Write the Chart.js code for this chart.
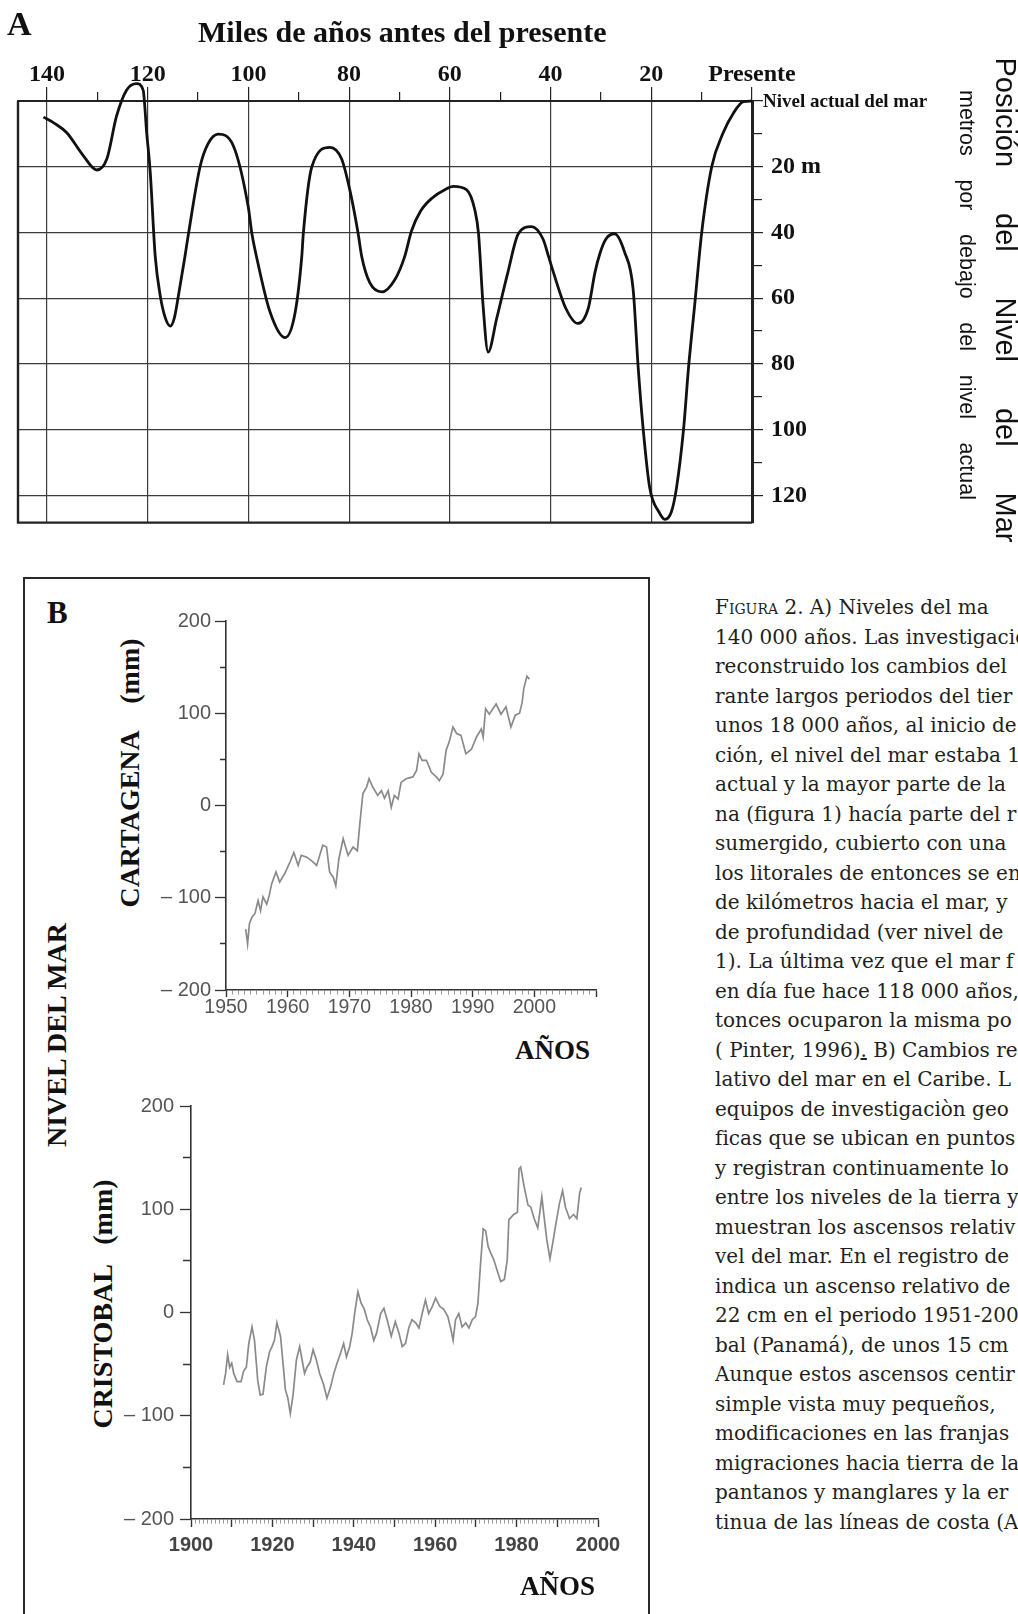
<!DOCTYPE html>
<html lang="es">
<head>
<meta charset="utf-8">
<title>Niveles del mar</title>
<script src="https://cdn.jsdelivr.net/npm/chart.js@4.4.1/dist/chart.umd.min.js"></script>
<style>
  html, body { margin: 0; padding: 0; background: #fff; }
  body { position: relative; width: 1018px; height: 1614px; overflow: hidden; color: #111; }
  canvas { position: absolute; }
  .lbl { position: absolute; white-space: pre; line-height: 1; font-family: 'Liberation Serif', serif; font-weight: bold; color: #111; }
  .rot { position: absolute; white-space: pre; line-height: 1; font-family: 'Liberation Serif', serif; font-weight: bold; color: #111;
         transform: translate(-50%, -50%) rotate(-90deg); }
  .vert { position: absolute; display: flex; justify-content: space-between; line-height: 1; white-space: pre;
          font-family: 'Liberation Sans', Arial, sans-serif; color: #111; transform: translate(-50%, -50%) rotate(90deg); }
  #frameB { position: absolute; left: 23px; top: 577px; width: 623px; height: 1200px; border: 2px solid #2a2a2a; }
  #caption { position: absolute; left: 715px; top: 593px; width: 303px; overflow: hidden; white-space: nowrap;
             font-family: 'DejaVu Serif', serif; font-size: 20px; line-height: 29.5px; color: #231f20; }
  .sc { font-variant: small-caps; }
</style>
</head>
<body>

<!-- Panel A -->
<canvas id="chartA" width="1018" height="545" style="left:0;top:0"></canvas>
<div class="lbl" style="left:7px;top:7px;font-size:34px">A</div>
<div class="lbl" style="left:198px;top:17px;font-size:30px">Miles de años antes del presente</div>
<div class="lbl" style="left:763px;top:91px;font-size:19px">Nivel actual del mar</div>
<div class="vert" style="left:1005px;top:300px;width:485px;font-size:29px">
  <span>Posición</span><span>del</span><span>Nivel</span><span>del</span><span>Mar</span>
</div>
<div class="vert" style="left:966px;top:295px;width:410px;font-size:21.5px">
  <span>metros</span><span>por</span><span>debajo</span><span>del</span><span>nivel</span><span>actual</span>
</div>

<!-- Panel B -->
<div id="frameB"></div>
<div class="lbl" style="left:47px;top:597px;font-size:31px">B</div>
<div class="rot" style="left:57px;top:1035px;font-size:28px">NIVEL DEL MAR</div>
<div class="rot" style="left:130px;top:773px;font-size:28px">CARTAGENA    (mm)</div>
<div class="rot" style="left:103px;top:1304px;font-size:28px">CRISTOBAL   (mm)</div>
<canvas id="cartagena" width="500" height="440" style="left:140px;top:590px"></canvas>
<canvas id="cristobal" width="530" height="500" style="left:110px;top:1080px"></canvas>
<div class="lbl" style="left:515px;top:1037px;font-size:27px">AÑOS</div>
<div class="lbl" style="left:520px;top:1573px;font-size:27px">AÑOS</div>

<div id="caption">
  <div><span class="sc">Figura</span> 2. A) Niveles del ma</div>
  <div>140 000 años. Las investigacio</div>
  <div>reconstruido los cambios del</div>
  <div>rante largos periodos del tier</div>
  <div>unos 18 000 años, al inicio de</div>
  <div>ción, el nivel del mar estaba 1</div>
  <div>actual y la mayor parte de la</div>
  <div>na (figura 1) hacía parte del r</div>
  <div>sumergido, cubierto con una</div>
  <div>los litorales de entonces se en</div>
  <div>de kilómetros hacia el mar, y</div>
  <div>de profundidad (ver nivel de</div>
  <div>1). La última vez que el mar f</div>
  <div>en día fue hace 118 000 años,</div>
  <div>tonces ocuparon la misma po</div>
  <div>( Pinter, 1996)<u>.</u> B) Cambios re</div>
  <div>lativo del mar en el Caribe. L</div>
  <div>equipos de investigaciòn geo</div>
  <div>ficas que se ubican en puntos</div>
  <div>y registran continuamente lo</div>
  <div>entre los niveles de la tierra y</div>
  <div>muestran los ascensos relativ</div>
  <div>vel del mar. En el registro de</div>
  <div>indica un ascenso relativo de</div>
  <div>22 cm en el periodo 1951-200</div>
  <div>bal (Panamá), de unos 15 cm</div>
  <div>Aunque estos ascensos centir</div>
  <div>simple vista muy pequeños,</div>
  <div>modificaciones en las franjas</div>
  <div>migraciones hacia tierra de la</div>
  <div>pantanos y manglares y la er</div>
  <div>tinua de las líneas de costa (A</div>
</div>

<script>
// Panel A: sea level over the last ~140 000 years (metres below present level)
const kyrA = [140.7, 138.5, 136.1, 132.8, 130.1, 128.1, 126.2, 124.2, 122.2, 120.9, 120.2, 119.5,
  118.5, 117.5, 116.5, 115.5, 114.7, 113.9, 112.6, 111.9, 109.6, 108.0, 106.0, 103.0, 100.0, 99.3,
  98.4, 95.7, 92.7, 90.7, 89.4, 89.1, 87.4, 83.8, 81.5, 79.8, 78.2, 77.5, 75.9, 73.5, 70.9, 69.0,
  67.6, 65.8, 63.5, 61.0, 59.3, 56.7, 55.0, 54.3, 54.0, 53.4, 52.4, 50.7, 48.5, 46.4, 43.8, 41.5, 40.4, 39.4,
  37.0, 34.6, 32.5, 31.2, 30.2, 29.0, 27.3, 25.3, 23.6, 22.6, 21.6, 20.3, 18.5, 17.3, 16.0, 15.0,
  13.6, 12.6, 11.3, 10.0, 8.0, 5.7, 3.7, 1.7, 0];
const depthA = [4.9, 6.8, 9.6, 16.6, 21.0, 17.6, 4.7, -3.3, -5.3, -3.3, 9.6, 21.5,
  47.3, 59.3, 66, 68.5, 66, 59.3, 47.3, 40.4, 20.0, 13, 10.1, 13.6, 32.5, 40.4,
  47.3, 64.2, 72.0, 64.2, 47.3, 40.4, 20.0, 14.1, 17.6, 27.5, 40.4, 47.3, 55.3, 58.1, 54.3, 47.5,
  39.5, 33.5, 29.5, 27.0, 26.0, 27.0, 33.4, 40.4, 47.3, 62.2, 76.4, 66.2, 52.3, 40.4, 38.2, 42, 47.3, 52.3,
  63, 67.7, 63, 52.3, 46.4, 42, 40.4, 46, 57.3, 81.1, 100, 117.8, 125, 127.3, 125, 117.8,
  100, 81.1, 60.8, 40.2, 20.0, 9.6, 3.7, 0.2, 0];
const kyrTickValues = [140, 120, 100, 80, 60, 40, 20, 0];
const kyrTickText = ['140', '120', '100', '80', '60', '40', '20', 'Presente'];
const depthTickValues = [20, 40, 60, 80, 100, 120];
const depthTickText = ['20 m', '40', '60', '80', '100', '120'];

// Panel B: tide gauge records (mm)
const cartYears = [1953.2, 1953.5, 1953.8, 1954.2, 1954.7, 1955.2, 1955.6, 1956.0, 1956.6, 1957.0,
  1957.4, 1958.1, 1958.7, 1959.5, 1960.4, 1961.0, 1961.7, 1962.2, 1963.1, 1963.9, 1964.7, 1965.2,
  1965.7, 1966.3, 1966.8, 1967.4, 1967.8, 1968.3, 1969.0, 1969.8, 1970.6, 1971.3, 1971.7, 1972.2,
  1972.8, 1973.2, 1973.8, 1974.6, 1975.2, 1975.7, 1976.3, 1976.8, 1977.3, 1977.9, 1978.4, 1979.2,
  1980.3, 1980.9, 1981.3, 1981.8, 1982.5, 1983.3, 1984.1, 1984.6, 1985.2, 1985.7, 1986.2, 1986.8,
  1987.4, 1988.1, 1988.9, 1989.8, 1990.6, 1991.4, 1991.7, 1992.1, 1992.7, 1993.8, 1994.6, 1995.4,
  1996.2, 1996.9, 1997.6, 1998.0, 1998.3, 1998.8, 1999.2];
const cartLevels = [-134, -150, -128, -121, -117, -103, -114, -99, -107, -98,
  -85, -72, -83, -74, -61, -51, -65, -54, -56, -60, -65, -54,
  -43, -45, -72, -78, -87, -58, -36, -54, -45, -49, -20, 13,
  20, 29, 20, 11, 16, 8, 16, -2, 11, 7, 25, 29,
  31, 38, 56, 49, 49, 36, 31, 27, 34, 60, 69, 85,
  78, 76, 56, 61, 74, 83, 74, 105, 99, 110, 99, 107,
  85, 98, 100, 111, 127, 140, 137];
const cristYears = [1908.0, 1908.5, 1909.0, 1909.5, 1910.0, 1910.5, 1911.3, 1912.3, 1912.9, 1913.6,
  1914.2, 1915.0, 1915.6, 1916.4, 1917.0, 1917.7, 1918.5, 1919.3, 1919.9, 1920.5, 1921.1, 1922.0,
  1922.6, 1923.2, 1923.8, 1924.4, 1925.1, 1925.9, 1926.7, 1927.3, 1927.9, 1928.5, 1929.3, 1930.0,
  1930.8, 1931.6, 1932.6, 1933.4, 1934.3, 1935.1, 1935.9, 1936.7, 1937.5, 1938.2, 1939.0, 1939.6,
  1940.2, 1941.0, 1941.8, 1942.6, 1943.3, 1944.1, 1944.9, 1945.6, 1946.6, 1947.4, 1948.2, 1949.2,
  1950.2, 1951.1, 1951.9, 1952.7, 1953.5, 1954.3, 1955.2, 1956.0, 1956.8, 1957.6, 1958.4, 1959.3,
  1960.1, 1961.1, 1962.1, 1963.1, 1963.9, 1964.4, 1965.0, 1965.8, 1966.6, 1967.5, 1968.3, 1969.1,
  1969.9, 1970.5, 1971.1, 1971.8, 1972.4, 1973.0, 1973.6, 1974.4, 1975.2, 1976.1, 1977.0, 1977.7,
  1978.1, 1979.3, 1980.2, 1980.6, 1981.0, 1981.8, 1982.8, 1983.5, 1984.3, 1985.2, 1986.2, 1986.6,
  1987.4, 1988.2, 1989.0, 1989.7, 1990.5, 1991.3, 1992.0, 1993.0, 1994.0, 1994.8, 1995.5, 1995.9];
const cristLevels = [-70, -59, -41, -53, -49, -59, -67, -67, -57, -53,
  -30, -14, -27, -66, -80, -79, -53, -38, -33, -27, -10, -23,
  -49, -75, -83, -98, -79, -46, -33, -46, -59, -53, -48, -36,
  -46, -59, -70, -83, -72, -59, -49, -40, -30, -43, -33, -20,
  -1, 20, 9, 3, -7, -14, -27, -20, -1, 4, -7, -23,
  -9, -20, -33, -30, -15, -7, -10, -15, -1, 12, -1, 6,
  14, 6, 3, -4, -17, -27, -7, -1, -14, -10, -15, -7,
  -4, 9, 45, 81, 79, 64, 58, 51, 41, 30, 32, 51,
  90, 95, 97, 139, 141, 123, 104, 102, 91, 82, 112, 98,
  71, 52, 70, 87, 105, 118, 102, 91, 95, 91, 116, 121];
const levelTickValues = [200, 100, 0, -100, -200];
const levelTickText = ['200', '100', '0', '– 100', '– 200'];
const cartYearLabels = [1950, 1960, 1970, 1980, 1990, 2000];
const cristYearLabels = [1900, 1920, 1940, 1960, 1980, 2000];

Chart.defaults.font.family = "'Liberation Sans', Arial, sans-serif";

function labelFor(values, texts, v) {
  const i = values.indexOf(v);
  return i >= 0 ? texts[i] : '';
}
function onStep(c, step) {
  return !!c.tick && Math.abs(c.tick.value % step) < 1e-6;
}

// left and bottom edges of the panel A frame
const frameA = {
  id: 'frameA',
  afterDraw(chart) {
    const { ctx, chartArea: a } = chart;
    ctx.save();
    ctx.strokeStyle = '#222';
    ctx.lineWidth = 2.4;
    ctx.beginPath();
    ctx.moveTo(a.left, a.top);
    ctx.lineTo(a.left, a.bottom);
    ctx.lineTo(a.right, a.bottom);
    ctx.stroke();
    ctx.restore();
  }
};

new Chart(document.getElementById('chartA'), {
  type: 'line',
  data: {
    datasets: [{
      data: kyrA.map((k, i) => ({ x: k, y: depthA[i] })),
      borderColor: '#111',
      borderWidth: 2.8,
      pointRadius: 0,
      cubicInterpolationMode: 'monotone',
      clip: false,
      fill: false
    }]
  },
  options: {
    responsive: false,
    animation: false,
    devicePixelRatio: 1,
    layout: { padding: { left: 18, top: 61, right: 0, bottom: 13 } },
    plugins: { legend: { display: false }, tooltip: { enabled: false } },
    scales: {
      x: {
        type: 'linear',
        position: 'top',
        reverse: true,
        min: 0,
        max: 145.75,
        afterFit: s => { s.height = 40; },
        ticks: {
          stepSize: 10,
          autoSkip: false,
          maxRotation: 0,
          includeBounds: false,
          padding: 0,
          color: '#111',
          font: { family: 'Liberation Serif', size: 24, weight: 'bold', lineHeight: 1 },
          callback: v => labelFor(kyrTickValues, kyrTickText, v)
        },
        grid: {
          color: c => onStep(c, 20) ? '#3c3c3c' : 'rgba(0,0,0,0)',
          lineWidth: 1.2,
          tickLength: 14,
          tickColor: '#222',
          tickWidth: 1.2,
          tickBorderDash: c => onStep(c, 20) ? [] : [0, 5, 9, 0]
        },
        border: { display: true, color: '#222', width: 2 }
      },
      y: {
        type: 'linear',
        position: 'right',
        reverse: true,
        min: 0,
        max: 128.3,
        afterFit: s => { s.width = 266; },
        ticks: {
          stepSize: 10,
          autoSkip: false,
          includeBounds: false,
          padding: 8,
          color: '#111',
          font: { family: 'Liberation Serif', size: 24, weight: 'bold' },
          callback: v => labelFor(depthTickValues, depthTickText, v)
        },
        grid: {
          color: c => onStep(c, 20) ? '#3c3c3c' : 'rgba(0,0,0,0)',
          lineWidth: 1.2,
          tickLength: 11,
          tickColor: '#222',
          tickWidth: 1.2,
          tickBorderDash: c => onStep(c, 20) ? [] : [8, 20]
        },
        border: { display: true, color: '#222', width: 3 }
      }
    }
  },
  plugins: [frameA]
});

function tideChart(id, years, levels, o) {
  return new Chart(document.getElementById(id), {
    type: 'line',
    data: {
      datasets: [{
        data: years.map((x, i) => ({ x, y: levels[i] })),
        borderColor: '#8a8a8a',
        borderWidth: 1.7,
        pointRadius: 0,
        tension: 0
      }]
    },
    options: {
      responsive: false,
      animation: false,
      devicePixelRatio: 1,
      layout: { padding: o.padding },
      plugins: { legend: { display: false }, tooltip: { enabled: false } },
      scales: {
        x: {
          type: 'linear',
          min: o.xMin,
          max: o.xMax,
          afterFit: s => { s.height = o.xHeight; },
          ticks: {
            stepSize: 1,
            autoSkip: false,
            maxRotation: 0,
            includeBounds: false,
            padding: o.xPad,
            color: o.xColor,
            font: o.xFont,
            callback: v => o.xLabels.includes(v) ? String(v) : ''
          },
          grid: {
            drawOnChartArea: false,
            tickLength: o.xTick,
            tickColor: c => onStep(c, 10) ? '#333' : '#9a9a9a',
            tickWidth: c => onStep(c, 10) ? 1.4 : 1,
            tickBorderDash: c => onStep(c, 10) ? [] : [4, 20]
          },
          border: { color: '#333', width: 1.6 }
        },
        y: {
          type: 'linear',
          min: -200,
          max: 200,
          afterFit: s => { s.width = o.yWidth; },
          ticks: {
            stepSize: 50,
            autoSkip: false,
            padding: o.yPad,
            color: '#555',
            font: { size: 20, lineHeight: 1 },
            callback: v => labelFor(levelTickValues, levelTickText, v)
          },
          grid: {
            drawOnChartArea: false,
            tickLength: 11,
            tickColor: '#333',
            tickWidth: 1.3,
            tickBorderDash: c => onStep(c, 100) ? [] : o.yMinorDash
          },
          border: { color: '#333', width: 1.6 }
        }
      }
    }
  });
}

tideChart('cartagena', cartYears, cartLevels, {
  padding: { left: 6, right: 44, top: 31, bottom: 10 },
  xMin: 1950, xMax: 2010, xHeight: 30, xTick: 7, xPad: 1,
  xColor: '#555', xFont: { size: 19.5, lineHeight: 1 }, xLabels: cartYearLabels,
  yWidth: 80, yPad: 4, yMinorDash: [0, 5, 6, 0]
});

tideChart('cristobal', cristYears, cristLevels, {
  padding: { left: 11, right: 42, top: 26, bottom: 21 },
  xMin: 1900, xMax: 2000, xHeight: 40, xTick: 8, xPad: 8,
  xColor: '#444', xFont: { size: 20, weight: 'bold', lineHeight: 1 }, xLabels: cristYearLabels,
  yWidth: 70, yPad: 6, yMinorDash: [0, 3, 8, 0]
});
</script>
</body>
</html>
